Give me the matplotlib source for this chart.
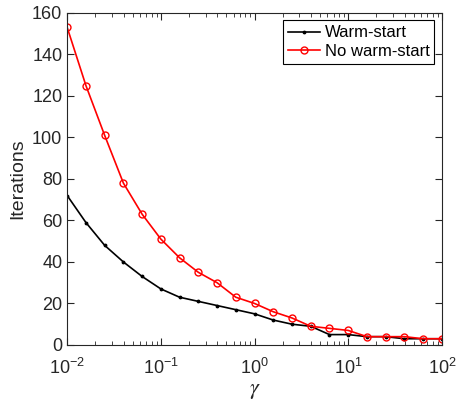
import numpy as np
import matplotlib
matplotlib.use("Agg")
import matplotlib.pyplot as plt
from matplotlib.ticker import LogLocator, NullFormatter

# ── Data ──
exponents = [-2.0, -1.8, -1.6, -1.4, -1.2, -1.0, -0.8, -0.6, -0.4, -0.2, 0.0,
             0.2, 0.4, 0.6, 0.8, 1.0, 1.2, 1.4, 1.6, 1.8, 2.0]
gamma = [10 ** e for e in exponents]
warm_start = [72, 59, 48, 40, 33, 27, 23, 21, 19, 17, 15,
              12, 10, 9, 5, 5, 4, 4, 3, 3, 3]
no_warm_start = [153, 125, 101, 78, 63, 51, 42, 35, 30, 23, 20,
                 16, 13, 9, 8, 7, 4, 4, 4, 3, 3]
y_ticks = [0, 20, 40, 60, 80, 100, 120, 140, 160]

plt.rcParams["font.family"] = ["Liberation Sans", "DejaVu Sans"]
plt.rcParams["mathtext.fontset"] = "stix"
AXC = "#262626"

fig = plt.figure(figsize=(4.57, 4.03), dpi=100)
ax = fig.add_axes([0.147, 0.144, 0.820, 0.824])

ax.plot(gamma, warm_start, color="black", marker=".", markersize=3.5,
        linewidth=1.2, label="Warm-start")
ax.plot(gamma, no_warm_start, color="red", marker="o", markersize=5,
        markerfacecolor="none", markeredgewidth=1.0, linewidth=1.2,
        label="No warm-start")

ax.set_xscale("log")
ax.set_xlim(1e-2, 1e2)
ax.set_ylim(0, 160)
ax.set_yticks(y_ticks)
ax.xaxis.set_minor_locator(LogLocator(base=10, subs=np.arange(2, 10), numticks=20))
ax.xaxis.set_minor_formatter(NullFormatter())

ax.tick_params(which="both", direction="in", top=True, right=True,
               colors=AXC, labelsize=13, labelcolor=AXC)
ax.tick_params(which="major", length=5, width=0.8)
ax.tick_params(which="minor", length=3, width=0.6)
ax.tick_params(axis="x", pad=9)
for spine in ax.spines.values():
    spine.set_color(AXC)
    spine.set_linewidth(0.8)

ax.set_xlabel(r"$\gamma$", fontsize=16, color=AXC)
ax.xaxis.set_label_coords(0.5, -0.105)
ax.set_ylabel("Iterations", fontsize=14, color=AXC)

leg = ax.legend(loc="upper right", fontsize=12, fancybox=False,
                framealpha=1, edgecolor="black", handlelength=1.9,
                borderaxespad=0.45, labelspacing=0.2, handletextpad=0.3,
                borderpad=0.3)
leg.get_frame().set_linewidth(0.8)

fig.savefig("out.png", dpi=100)
